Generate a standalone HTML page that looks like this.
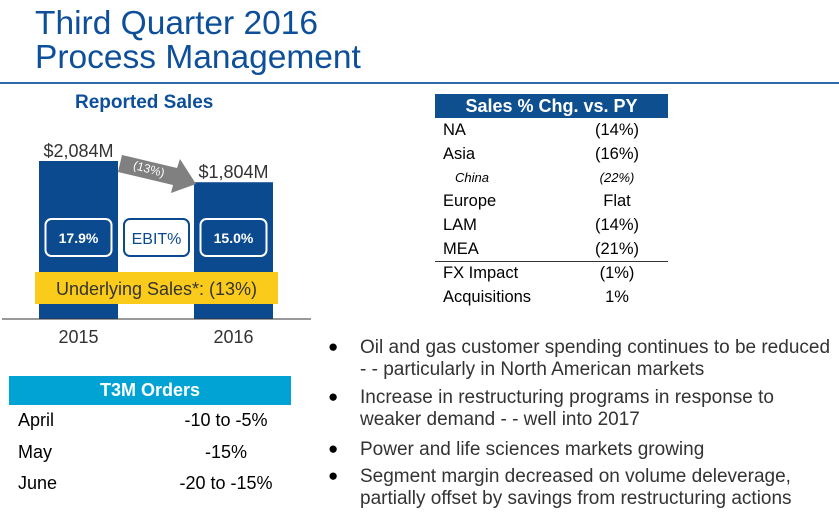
<!DOCTYPE html>
<html><head><meta charset="utf-8">
<style>
body{margin:0;width:839px;height:515px;background:#fff;position:relative;overflow:hidden;font-family:"Liberation Sans",Arial,sans-serif;}
.a{position:absolute;white-space:nowrap;}
.t{color:#0d4f9a;font-size:33.5px;left:35px;line-height:34px;}
.row{position:absolute;font-size:16.5px;color:#000;}
.bl{position:absolute;font-size:19px;color:#333;left:360px;line-height:22px;}
.dot{position:absolute;left:328px;font-size:17px;color:#000;}
</style></head><body>
<div class="a t" style="top:7px">Third Quarter 2016</div>
<div class="a t" style="top:41px">Process Management</div>
<div class="a" style="left:0;top:82px;width:839px;height:2px;background:#2f6aaa"></div>

<div class="a" style="left:75px;top:92px;font-size:19px;font-weight:bold;color:#0d4f9a">Reported Sales</div>

<svg class="a" style="left:0;top:0" width="320" height="360" id="chart"></svg>

<div class="a" style="left:435px;top:94px;width:233px;height:24px;background:#0d4f8f;color:#fff;font-weight:bold;font-size:18px;text-align:center;line-height:24px">Sales % Chg. vs. PY</div>
<div id="tbl"></div>
<div class="a" style="left:435px;top:261px;width:233px;height:1px;background:#333"></div>

<div class="a" style="left:9px;top:376px;width:282px;height:29px;background:#00a3d3;color:#fff;font-weight:bold;font-size:18px;text-align:center;line-height:29px">T3M Orders</div>
<div id="orders"></div>

<div class="dot" style="top:337px">●</div>
<div class="bl" style="top:337px">Oil and gas customer spending continues to be reduced<br>- - particularly in North American markets</div>
<div class="dot" style="top:387px">●</div>
<div class="bl" style="top:387px">Increase in restructuring programs in response to<br>weaker demand - - well into 2017</div>
<div class="dot" style="top:439px">●</div>
<div class="bl" style="top:439px">Power and life sciences markets growing</div>
<div class="dot" style="top:466px">●</div>
<div class="bl" style="top:466px">Segment margin decreased on volume deleverage,<br>partially offset by savings from restructuring actions</div>

<script>
const years=["2015","2016"];
const sales=[2084,1804];
const salesLabels=["$2,084M","$1,804M"];
const ebit=["17.9%","15.0%"];
const regions=["NA","Asia","China","Europe","LAM","MEA","FX Impact","Acquisitions"];
const regionVals=["(14%)","(16%)","(22%)","Flat","(14%)","(21%)","(1%)","1%"];
const months=["April","May","June"];
const orderVals=["-10 to -5%","-15%","-20 to -15%"];

const NS="http://www.w3.org/2000/svg";
const svg=document.getElementById('chart');
function mk(tag,attrs,parent){const e=document.createElementNS(NS,tag);for(const k in attrs)e.setAttribute(k,attrs[k]);(parent||svg).appendChild(e);return e;}
const base=319, scale=158/2084;
function y(v){return base-v*scale;}
function xc(i){return 78.5+i*155;}
sales.forEach((v,i)=>{
  const r=mk('rect',{x:xc(i)-39.5,y:y(v),width:79,height:base-y(v),fill:'#0b4a8e'});
  
  
  const t=mk('text',{x:xc(i),y:y(v)-4,'text-anchor':'middle','font-size':'18','fill':'#333','font-family':'Liberation Sans, sans-serif'});
  t.textContent=salesLabels[i];
  
  
  const yl=mk('text',{x:xc(i),y:343,'text-anchor':'middle','font-size':'18','fill':'#333','font-family':'Liberation Sans, sans-serif'});
  yl.textContent=years[i];
  
  
  const bx=mk('rect',{x:xc(i)-33,y:219,width:66,height:37,rx:6,fill:'#0b4a8e',stroke:'#fff','stroke-width':'2'});
  
  
  const et=mk('text',{x:xc(i),y:243,'text-anchor':'middle','font-size':'14','font-weight':'bold','fill':'#fff','font-family':'Liberation Sans, sans-serif'});
  et.textContent=ebit[i];
  
  
});
const eb=mk('rect',{x:124,y:219,width:65,height:37,rx:6,fill:'#fff',stroke:'#0b4a8e','stroke-width':'2'});


const ebt=mk('text',{x:156.5,y:244,'text-anchor':'middle','font-size':'16','fill':'#0b4a8e','font-family':'Liberation Sans, sans-serif'});
ebt.textContent='EBIT%';


const yb=mk('rect',{x:35,y:272,width:243,height:32,fill:'#fbcb1c'});


const ybt=mk('text',{x:156.5,y:295,'text-anchor':'middle','font-size':'18','fill':'#333','font-family':'Liberation Sans, sans-serif'});
ybt.textContent='Underlying Sales*: (13%)';


const ax=mk('line',{x1:2,y1:base,x2:311,y2:base,stroke:'#333','stroke-width':'1'});


const ar=mk('polygon',{points:'122,155 177,168 180,159 196,184 171,193 173,185 118,172',fill:'#808080'});


const at=mk('text',{x:149,y:173,'text-anchor':'middle','font-size':'12','fill':'#fff','transform':'rotate(15 149 169)','font-family':'Liberation Sans, sans-serif'});
at.textContent='(13%)';



const tbl=document.getElementById('tbl');
const rowY=[121,145,169,192,216,240,264,288];
regions.forEach((r,i)=>{
  const it=r==='China';
  const a=document.createElement('div');a.className='row';
  a.style.left=(it?455:443)+'px';a.style.top=rowY[i]+'px';
  if(it){a.style.fontStyle='italic';a.style.fontSize='13px';a.style.top=(rowY[i]+1)+'px';}
  a.textContent=r;
  
  
  tbl.appendChild(a);
  const b=document.createElement('div');b.className='row';
  b.style.left='570px';b.style.width='94px';b.style.textAlign='center';b.style.top=a.style.top;
  if(it){b.style.fontStyle='italic';b.style.fontSize='13px';}
  b.textContent=regionVals[i];
  
  
  tbl.appendChild(b);
});
const od=document.getElementById('orders');
months.forEach((m,i)=>{
  const t=410+i*31.5;
  const a=document.createElement('div');a.className='row';a.style.fontSize='18px';
  a.style.left='18px';a.style.top=t+'px';a.textContent=m;
  
  
  od.appendChild(a);
  const b=document.createElement('div');b.className='row';b.style.fontSize='18px';
  b.style.left='156px';b.style.width='140px';b.style.textAlign='center';b.style.top=t+'px';b.textContent=orderVals[i];
  
  
  od.appendChild(b);
});
</script>
</body></html>
